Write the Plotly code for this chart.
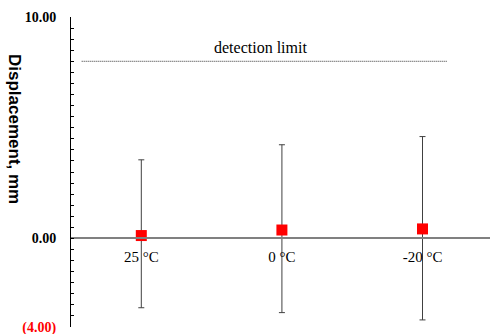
import plotly.graph_objects as go

categories = ["25 °C", "0 °C", "-20 °C"]
displacement = [0.13, 0.38, 0.43]
err_plus = [3.42, 3.85, 4.17]
err_minus = [3.26, 3.73, 4.11]
detection_limit = 8.0
y_min, y_max = -4.0, 10.0
tick_vals = [y_min + 0.5 * i for i in range(int((y_max - y_min) / 0.5) + 1)]
tick_labels = {10.0: "<b>10.00</b>", 0.0: "<b>0.00</b>",
               -4.0: '<b><span style="color:#ff0000">(4.00)</span></b>'}

xpos = list(range(len(categories)))

fig = go.Figure()
fig.add_trace(go.Scatter(
    x=xpos, y=displacement, mode="markers",
    marker=dict(symbol="square", size=11, color="#ff0000"),
    error_y=dict(type="data", array=err_plus, arrayminus=err_minus,
                 color="#404040", thickness=1, width=3, symmetric=False),
    showlegend=False,
))

fig.add_shape(type="line", xref="x", yref="y", x0=-0.424, x1=2.179,
              y0=detection_limit, y1=detection_limit,
              line=dict(color="#333333", width=1, dash="1px,1px"))
fig.add_annotation(x=0.85, y=detection_limit, xref="x", yref="y",
                   text="detection limit", showarrow=False, yshift=14,
                   font=dict(family="Liberation Serif", size=16, color="#000000"))
fig.add_annotation(x=(15 - 71) / 419, y=1 - (129 - 17) / 310, xref="paper", yref="paper",
                   text="<b>Displacement, mm</b>", showarrow=False, textangle=90,
                   xanchor="center", yanchor="middle",
                   font=dict(family="Liberation Sans", size=17, color="#000000"))

fig.update_layout(
    width=490, height=334,
    margin=dict(l=71, r=0, t=17, b=7),
    paper_bgcolor="white", plot_bgcolor="white",
    font=dict(family="Liberation Serif", size=14, color="#000000"),
    xaxis=dict(
        range=[-0.5, 2.48], tickvals=xpos, ticktext=categories,
        showline=True, linecolor="#808080", linewidth=1.5,
        ticks="", showgrid=False, zeroline=False, automargin=False,
        anchor="free", position=(0 - y_min) / (y_max - y_min),
        ticklabelstandoff=5,
        tickfont=dict(family="Liberation Serif", size=15, color="#000000"),
    ),
    yaxis=dict(
        range=[y_min, y_max], tickvals=tick_vals,
        ticktext=[tick_labels.get(v, "") for v in tick_vals],
        showline=True, linecolor="#000000", linewidth=1,
        ticks="inside", ticklen=3, tickcolor="#000000",
        showgrid=False, zeroline=False, ticklabelstandoff=11,
        ticklabeloverflow="allow", automargin=False,
        tickfont=dict(family="Liberation Serif", size=14, color="#000000"),
    ),
)

fig.write_html("out.html")
